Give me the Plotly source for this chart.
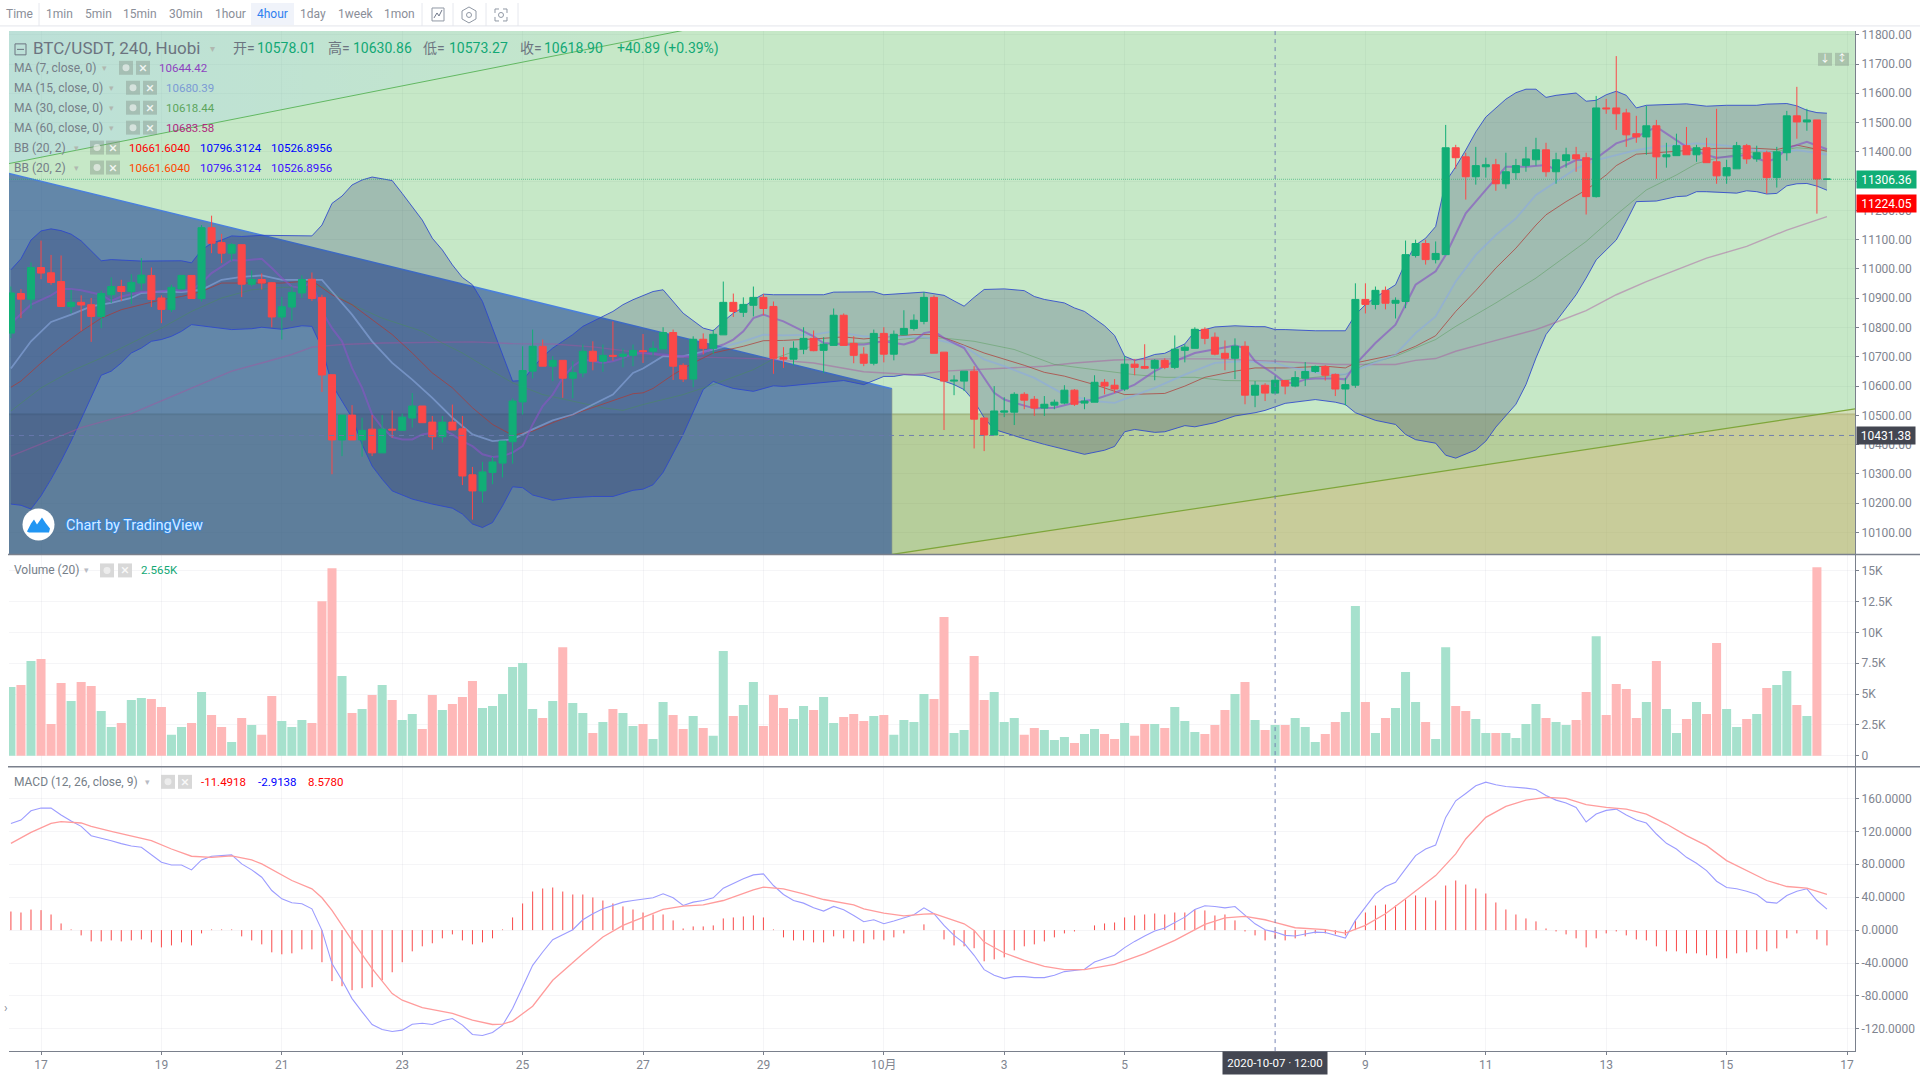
import pandas as pd
import plotly.graph_objects as go

# candles, 4h bars from 2020-09-16 12:00
opens = [10781,10916,10897,11005,10987,10957,10872,10886,10878,10838,
    10912,10940,10923,10952,10978,10901,10862,10932,10978,10899,
    11141,11090,11054,11083,10948,10964,10953,10836,10870,10918,
    10965,10903,10639,10416,10501,10416,10453,10372,10453,10449,
    10491,10532,10477,10427,10477,10454,10297,10242,10305,10337,
    10410,10546,10651,10736,10668,10688,10627,10645,10719,10685,
    10705,10702,10705,10721,10719,10727,10783,10671,10624,10760,
    10729,10775,10886,10852,10876,10903,10872,10698,10692,10726,
    10763,10722,10739,10842,10746,10709,10678,10780,10709,10775,
    10797,10821,10903,10716,10617,10617,10651,10491,10433,10511,
    10511,10572,10555,10525,10535,10542,10586,10542,10545,10613,
    10603,10590,10675,10667,10661,10688,10664,10722,10729,10794,
    10767,10712,10695,10736,10569,10603,10576,10619,10600,10627,
    10650,10667,10640,10590,10603,10896,10879,10927,10883,10889,
    11046,11087,11032,11049,11414,11383,11315,11349,11356,11291,
    11329,11353,11373,11407,11332,11370,11390,11380,11247,11550,
    11550,11533,11462,11451,11489,11383,11387,11421,11390,11414,
    11366,11318,11342,11421,11376,11397,11312,11397,11523,11502,
    11509,11306]
highs = [10940,10931,11022,11097,11048,11046,10929,10910,10901,10926,
    10971,10963,10982,11037,11005,10910,10946,10978,10978,11150,
    11182,11120,11088,11083,10995,10985,10955,10905,10940,10978,
    10988,10912,10639,10501,10535,10492,10501,10501,10517,10506,
    10576,10532,10498,10498,10537,10498,10324,10341,10358,10412,
    10558,10736,10793,10759,10702,10688,10685,10742,10753,10742,
    10821,10728,10742,10778,10753,10801,10793,10678,10770,10780,
    10793,10957,10916,10903,10940,10914,10889,10733,10753,10801,
    10790,10767,10865,10848,10770,10733,10793,10801,10790,10859,
    10845,10921,10910,10716,10637,10651,10668,10491,10600,10562,
    10579,10579,10566,10566,10554,10603,10590,10562,10637,10624,
    10624,10702,10692,10743,10692,10695,10773,10743,10801,10801,
    10783,10756,10763,10753,10617,10610,10634,10619,10651,10682,
    10670,10671,10643,10628,10951,10951,10940,10940,10903,11097,
    11100,11100,11094,11492,11424,11397,11417,11380,11376,11397,
    11376,11417,11448,11431,11397,11414,11417,11397,11591,11581,
    11727,11547,11523,11557,11509,11431,11462,11485,11424,11448,
    11547,11373,11434,11427,11421,11404,11417,11540,11622,11547,
    11509,11307]
lows = [10764,10832,10864,10965,10946,10872,10849,10789,10751,10798,
    10884,10891,10880,10929,10870,10815,10853,10932,10899,10889,
    11054,11020,11028,10904,10940,10930,10801,10759,10823,10901,
    10891,10580,10299,10361,10416,10359,10361,10372,10424,10449,
    10458,10475,10383,10407,10450,10262,10144,10202,10265,10288,
    10335,10503,10626,10668,10617,10560,10558,10630,10654,10649,
    10687,10664,10668,10679,10705,10727,10621,10614,10596,10708,
    10710,10775,10836,10836,10838,10842,10642,10662,10671,10709,
    10719,10645,10739,10739,10678,10668,10671,10681,10688,10775,
    10790,10811,10712,10450,10569,10583,10387,10378,10433,10494,
    10467,10521,10498,10498,10521,10538,10532,10521,10545,10572,
    10576,10583,10637,10658,10620,10658,10658,10681,10729,10743,
    10705,10654,10624,10538,10528,10549,10576,10572,10596,10600,
    10645,10619,10566,10534,10594,10848,10862,10862,10831,10866,
    11039,11015,11019,11049,11342,11237,11288,11312,11267,11274,
    11305,11332,11353,11315,11291,11346,11332,11186,11244,11530,
    11475,11417,11431,11390,11308,11346,11387,11390,11366,11363,
    11291,11291,11342,11359,11366,11257,11278,11370,11445,11472,
    11189,11305]
closes = [10918,10897,11005,10986,10954,10872,10886,10877,10838,10916,
    10940,10923,10954,10979,10896,10862,10937,10978,10899,11141,
    11088,11054,11083,10948,10964,10952,10836,10871,10920,10964,
    10899,10638,10416,10501,10416,10449,10372,10453,10450,10494,
    10532,10475,10427,10477,10450,10293,10242,10307,10341,10412,
    10549,10653,10736,10668,10688,10627,10646,10719,10685,10705,
    10702,10709,10722,10718,10729,10783,10668,10624,10760,10729,
    10777,10886,10855,10879,10903,10865,10695,10692,10729,10763,
    10721,10743,10842,10739,10705,10678,10780,10709,10777,10797,
    10825,10903,10712,10617,10620,10651,10487,10433,10515,10515,
    10572,10552,10525,10538,10545,10586,10538,10549,10613,10600,
    10590,10675,10664,10661,10688,10664,10726,10733,10794,10763,
    10709,10695,10736,10569,10603,10576,10620,10600,10629,10650,
    10667,10637,10590,10605,10896,10879,10927,10883,10893,11049,
    11087,11032,11053,11414,11380,11315,11353,11356,11291,11332,
    11353,11376,11407,11332,11373,11390,11376,11247,11550,11547,
    11530,11458,11451,11489,11383,11390,11421,11390,11414,11363,
    11318,11346,11421,11376,11397,11312,11400,11523,11502,11509,
    11307,11307]

volumes = [5.57,5.74,7.67,7.84,2.58,5.90,4.44,5.98,5.65,3.63,
    2.34,2.67,4.52,4.68,4.60,3.96,1.70,2.34,2.67,5.17,
    3.31,2.34,1.13,3.07,2.50,1.70,4.85,2.83,2.34,2.91,
    2.67,12.52,15.19,6.46,3.47,3.80,4.93,5.74,4.52,2.91,
    3.39,2.18,4.93,3.72,4.20,4.77,6.06,3.88,4.04,5.01,
    7.19,7.51,3.80,3.07,4.44,8.80,4.28,3.47,1.86,2.75,
    3.80,3.47,2.42,2.58,1.37,4.36,3.31,2.18,3.23,2.26,
    1.62,8.48,3.23,4.12,5.98,2.42,4.93,3.88,2.99,4.04,
    3.72,4.77,2.67,3.15,3.39,2.83,3.23,3.31,1.70,2.91,
    2.75,5.01,4.60,11.23,1.86,2.10,8.08,4.52,5.17,2.75,
    3.07,1.70,2.26,2.10,1.29,1.53,1.05,1.78,2.18,1.78,
    1.37,2.67,1.62,2.58,2.58,2.26,3.96,2.83,1.94,1.78,
    2.50,3.72,5.01,5.98,2.91,2.10,2.50,2.50,3.07,2.34,
    1.13,1.78,2.75,3.55,12.12,4.36,1.86,3.07,3.88,6.79,
    4.36,2.75,1.37,8.80,4.04,3.63,2.99,1.86,1.86,1.86,
    1.45,2.58,4.20,3.07,2.75,2.50,2.91,5.17,9.69,3.31,
    5.82,5.41,3.07,4.36,7.67,3.80,1.86,2.99,4.36,3.39,
    9.13,3.80,2.34,2.99,3.39,5.49,5.74,6.87,4.12,3.23,
    15.27,0]

macd_line = [129.7,133.8,145.1,148.3,148.3,139.9,132.6,126.1,114.8,112,
    108.7,105.1,102.3,100.7,91.4,82.5,79.2,79.2,73.2,85.3,
    89.8,90.2,91.4,80.5,73.2,64.3,48.1,38,33.2,32,
    25.9,-0.3,-40.7,-60.9,-83.2,-99.3,-114.7,-120.7,-123.2,-121.5,
    -114.3,-113.1,-114.7,-110.2,-107.4,-115.5,-126.8,-128,-124.4,-115.5,
    -95.3,-69,-42.8,-26.6,-11.7,-5.6,0.5,12.6,19.9,25.9,
    30,34,36,38,39.3,44.1,39.3,30,34,36,
    39.3,51,57,62.3,67.1,68.3,54.2,43.3,36,32.8,
    27.1,23.1,28.8,24.7,17.8,10.2,12.6,7.7,11,14.6,
    18.6,27.1,19.9,5.7,-6.4,-15.7,-30.6,-48,-54.9,-58.9,
    -56.5,-56.5,-57.7,-57.7,-54.9,-50.4,-48.8,-47.6,-38.7,-34.7,
    -30.6,-21.3,-13.7,-7.2,-1.1,2.5,9,15.8,25.1,29.6,
    28.7,27.1,28.7,17.8,7.7,0.5,-2.4,-6.4,-7.2,-4.8,
    -2.4,-2.8,-6.4,-9.6,11.8,27.9,44.1,53,58.2,74.4,
    90.6,98.6,103.5,137,157.2,166.1,175.4,179.8,176.6,174.6,
    173.8,172.6,171,163.7,158,154.4,149.1,131.4,141,145.5,
    147.1,139.9,133.8,130.1,116.8,105.5,98.6,88.5,81.3,72.4,
    59.4,51.8,50.2,47.3,43.3,34,32.8,42.1,47.3,50.2,
    36,25.5]

macd_hist = [22.6,21.4,25,24.3,19,8.1,0.8,-6.4,-13.7,-13.7,
    -12.5,-13.7,-12.5,-11.3,-14.9,-21,-18.6,-14.9,-18.6,-4,
    0.8,0.8,0.8,-7.6,-12.5,-17.3,-27,-29.4,-28.2,-23.4,
    -23.4,-39,-62,-68.2,-73,-70.6,-69.4,-61,-51.2,-39,
    -25.8,-19.7,-16,-10,-5.2,-12.5,-17.3,-14.9,-10,0.8,
    15.4,32.4,46.9,50.6,51.8,46.9,43.3,43.3,39.7,36,
    32.4,28.8,25.1,21.4,19,19,11.8,2,4.5,4.5,
    5.7,14.2,15.4,16.6,17.8,15.4,0.8,-8.8,-12.5,-12.5,
    -14.9,-14.9,-7.6,-10,-13.7,-16,-11.3,-12.5,-8.8,-4,
    0,7,0,-11.3,-18.6,-19.7,-22,-37.9,-35.5,-33.1,
    -24.6,-19.7,-17.3,-13.7,-8.8,-4,-1.6,0,5.7,8.1,
    9.3,15.4,17.8,19,20.2,19,21.4,21.4,25.1,23.9,
    17.8,19,11.8,-1.6,-6.4,-12.5,-10,-12.5,-10,-7.6,
    -4,-4,-5.2,-6.4,11.8,21.4,29.9,31.1,29.9,37.2,
    42.1,39.7,36,54.2,60.3,55.4,50.6,44.5,33.6,25.1,
    19,14.2,10.6,2,-1.6,-5.2,-10,-21,-10,-4,
    -1.6,-6.4,-11.3,-12.5,-19.7,-25.8,-25.8,-28.2,-28.2,-30.6,
    -34.3,-34.3,-28.2,-27,-23.4,-25.8,-22.2,-10,-4,0,
    -11.3,-18.6]

# signal line, read at the bars where it bends
signal_idx = [0,2,4,5,7,8,10,12,14,16,18,20,22,24,25,28,30,31,32,34,36,38,39,41,44,46,48,49,50,52,54,57,59,61,63,65,67,69,71,74,75,77,79,81,84,85,87,89,91,92,95,96,97,99,101,103,105,107,110,113,116,119,121,123,125,128,131,133,135,137,139,142,144,145,147,149,151,153,155,157,159,161,163,165,167,169,171,173,175,177,179,181]
signal_val = [105.5,118.8,129.7,131.8,130.2,126.1,120,114,108.7,98.6,89.8,88.5,90.2,85.3,80.5,60.3,50.2,39.3,23.9,-12.5,-46.8,-77.1,-85.2,-94.1,-101.3,-109.4,-114.7,-114.3,-110.6,-92.5,-61,-28.6,-8.4,5.7,15.8,25.1,29.2,30.8,36,48.9,52.2,50.2,44.1,37.2,30.8,25.9,20.7,17.4,19.4,19.9,7.7,-0.3,-14.5,-27.8,-36.7,-44,-48,-48,-41.5,-28.6,-12.5,7,15,16.6,12.6,2.9,0.5,-3.6,5.7,19.9,38,66.3,92.6,110.8,137,150.4,158,161.3,160,152.4,149.1,147.1,141,128.9,114.8,102.7,84.5,72.4,60.3,53,51,43.3]

bb_upper_idx = [0,1,2,3,4,5,6,7,8,9,10,11,13,17,18,19,20,21,22,23,25,30,31,32,33,34,35,36,37,38,39,40,41,42,43,44,45,46,47,48,49,50,51,52,53,54,55,56,57,58,59,60,61,62,63,64,65,66,67,69,70,71,72,73,74,75,76,81,82,86,87,91,93,94,95,96,97,99,101,102,103,105,106,107,108,109,110,111,112,113,114,115,116,117,118,119,120,122,124,125,126,127,130,133,134,135,136,137,138,139,140,141,142,143,144,145,146,147,148,149,150,151,152,153,154,155,156,157,158,159,160,161,162,163,167,169,171,174,175,177,178,179,180,181]
bb_upper = [10997,11035,11099,11130,11137,11131,11119,11096,11062,11028,11032,11030,11027,11028,11021,11065,11088,11099,11113,11111,11115,11113,11150,11224,11249,11287,11304,11314,11309,11302,11258,11213,11167,11105,11065,11014,10971,10946,10889,10798,10708,10617,10619,10662,10700,10730,10753,10776,10804,10821,10838,10855,10878,10895,10909,10923,10929,10887,10849,10798,10789,10821,10849,10869,10895,10914,10912,10912,10921,10922,10912,10921,10910,10891,10873,10903,10930,10932,10926,10906,10896,10884,10867,10855,10832,10806,10773,10702,10688,10696,10708,10712,10728,10744,10787,10793,10802,10806,10803,10803,10793,10793,10789,10789,10844,10878,10903,10926,10946,11023,11082,11105,11145,11298,11349,11406,11468,11519,11548,11580,11602,11614,11614,11586,11593,11598,11601,11573,11576,11595,11607,11593,11550,11559,11564,11556,11559,11559,11563,11565,11557,11542,11534,11532]

bb_lower_idx = [0,1,2,3,4,5,6,7,8,9,10,11,12,13,14,15,16,17,18,20,22,24,25,27,28,29,30,31,32,33,34,35,36,37,38,40,42,44,45,46,47,48,49,50,51,52,54,56,58,60,61,62,63,64,65,67,69,70,71,72,74,76,77,83,85,86,87,88,89,91,92,93,94,95,96,97,98,99,101,103,105,107,109,110,111,112,114,115,117,118,120,122,124,125,126,127,130,132,133,134,136,138,139,140,142,143,144,146,147,148,150,151,152,153,154,155,156,157,158,159,160,161,162,164,166,167,168,169,172,173,174,175,176,177,178,179,180,181]
bb_lower = [10197,10193,10180,10225,10282,10344,10412,10486,10560,10637,10651,10679,10713,10730,10753,10759,10770,10787,10810,10801,10793,10796,10801,10794,10801,10806,10804,10730,10605,10549,10492,10401,10327,10282,10242,10214,10197,10183,10163,10129,10117,10134,10191,10256,10253,10228,10210,10219,10223,10223,10233,10244,10248,10263,10305,10435,10588,10616,10603,10592,10582,10601,10599,10619,10605,10619,10633,10633,10639,10637,10628,10617,10605,10588,10549,10492,10452,10441,10420,10401,10384,10367,10381,10394,10444,10452,10442,10444,10465,10461,10475,10498,10509,10517,10529,10541,10554,10545,10537,10509,10483,10469,10435,10417,10405,10364,10354,10382,10412,10460,10538,10605,10696,10776,10821,10867,10912,10969,11031,11065,11099,11162,11230,11232,11247,11249,11264,11264,11259,11267,11264,11256,11258,11284,11291,11292,11283,11269]

bb_mid_idx = [0,1,3,5,7,9,11,13,15,17,19,21,23,27,30,32,34,36,38,40,42,44,46,48,50,52,54,57,60,62,63,64,66,68,70,73,75,77,80,83,85,87,90,92,94,97,101,103,105,108,111,115,117,119,122,124,126,127,131,133,134,136,138,140,142,144,146,148,150,152,153,155,157,159,160,162,164,167,170,174,176,178,181]
bb_mid = [10596,10617,10679,10736,10787,10832,10861,10878,10895,10906,10923,10952,10952,10952,10960,10912,10878,10827,10776,10713,10645,10594,10526,10469,10432,10446,10475,10515,10549,10574,10577,10592,10639,10679,10713,10736,10755,10756,10761,10768,10761,10768,10776,10776,10753,10713,10671,10647,10634,10605,10571,10575,10600,10630,10651,10662,10662,10662,10668,10662,10679,10694,10708,10736,10772,10855,10926,11003,11071,11150,11185,11230,11270,11321,11353,11392,11397,11406,11412,11412,11408,11423,11402]

ma7_idx = [0,2,4,5,6,7,9,10,11,13,15,16,17,18,19,20,21,22,23,25,26,27,28,29,30,31,32,33,34,35,36,37,38,39,40,41,42,43,44,45,46,47,48,49,50,51,52,53,54,55,56,57,58,59,60,61,62,63,65,67,68,69,70,71,72,73,74,75,76,77,78,79,80,81,83,85,87,89,90,91,92,93,95,96,97,98,99,100,102,104,106,108,110,112,114,116,118,120,122,123,124,126,127,128,129,130,132,133,134,136,138,140,142,143,145,147,149,151,153,154,156,157,158,160,162,164,165,167,169,170,173,175,176,177,179,181]
ma7 = [10815,10878,10910,10932,10932,10927,10912,10891,10906,10921,10923,10929,10926,10929,10952,10986,11008,11031,11028,11035,11003,10969,10940,10935,10957,10855,10798,10753,10662,10594,10503,10458,10426,10418,10418,10435,10441,10452,10435,10412,10395,10367,10358,10361,10373,10395,10469,10532,10571,10628,10668,10691,10685,10679,10685,10696,10710,10713,10708,10702,10702,10713,10730,10742,10759,10787,10832,10844,10832,10821,10804,10787,10770,10747,10742,10742,10753,10742,10753,10781,10787,10764,10730,10679,10628,10577,10554,10543,10524,10526,10543,10554,10577,10605,10651,10685,10713,10725,10739,10730,10685,10639,10611,10611,10623,10626,10626,10623,10674,10747,10810,10946,10992,11048,11190,11270,11349,11349,11355,11338,11372,11372,11378,11429,11451,11485,11463,11417,11389,11380,11389,11366,11378,11412,11434,11409]

ma15_idx = [0,2,4,6,8,10,12,13,15,17,19,21,23,25,27,29,31,32,34,36,38,40,42,44,46,48,50,52,54,56,58,60,62,63,65,67,70,73,75,77,80,82,85,88,91,93,95,97,99,102,105,108,110,114,117,120,123,126,127,131,133,135,138,140,142,144,146,148,150,152,154,156,158,160,162,164,168,171,173,176,178,181]
ma15 = [10660,10753,10819,10844,10872,10884,10901,10918,10923,10921,10929,10963,10973,10978,10963,10963,10963,10923,10844,10753,10679,10622,10560,10492,10435,10412,10418,10452,10483,10503,10537,10571,10645,10660,10702,10702,10725,10753,10776,10773,10776,10787,10770,10770,10767,10753,10736,10691,10668,10628,10571,10549,10543,10594,10639,10679,10685,10679,10668,10640,10640,10668,10708,10781,10838,10957,11048,11116,11173,11253,11298,11343,11372,11389,11406,11417,11429,11421,11412,11395,11406,11391]

ma30_idx = [0,3,6,9,12,15,18,21,24,27,31,34,37,41,43,45,48,50,53,56,59,61,63,67,70,74,76,79,82,85,90,93,96,100,104,108,112,115,118,121,124,126,133,135,138,142,144,148,152,157,160,163,166,168,170,173,176,178,181]
ma30 = [10515,10594,10651,10696,10747,10798,10855,10901,10929,10937,10940,10878,10832,10787,10747,10713,10651,10611,10571,10549,10526,10517,10537,10571,10605,10656,10693,10730,10747,10747,10764,10764,10753,10725,10674,10656,10639,10630,10630,10619,10617,10617,10640,10674,10702,10759,10804,10884,10969,11094,11185,11270,11321,11360,11378,11398,11402,11414,11406]

ma60_idx = [0,4,7,12,15,18,22,25,28,30,33,37,43,46,50,54,58,62,63,66,70,75,80,85,90,93,98,103,106,110,115,120,126,127,132,138,140,142,144,147,150,152,154,157,160,163,166,169,173,177,181]
ma60 = [10361,10418,10458,10506,10549,10594,10651,10679,10708,10733,10742,10747,10751,10751,10745,10744,10734,10719,10713,10698,10698,10693,10679,10649,10639,10651,10660,10668,10679,10689,10693,10693,10685,10683,10674,10674,10688,10694,10719,10747,10774,10793,10818,10858,10912,10957,10997,11037,11077,11133,11179]

# drawing tool polygons, in chart coordinates
bg_dates = ['2020-09-16 11:00', '2020-10-17 04:00', '2020-10-17 04:00', '2020-09-16 11:00']
bg_prices = [11816, 11816, 10020, 10020]
band_prices = [10505, 10505, 10020, 10020]
wedge_dates = ['2020-09-16 11:14', '2020-09-27 16:45', '2020-09-16 11:14']
wedge_prices = [11360, 11816, 11816]
blue_dates = ['2020-09-16 11:14', '2020-10-01 03:15', '2020-10-01 03:15', '2020-09-16 11:14']
blue_prices = [11326, 10591, 10020, 10020]
olive_dates = ['2020-10-01 03:15', '2020-10-17 03:11', '2020-10-17 03:11']
olive_prices = [10025, 10522, 10025]

day_ticks = ['2020-09-17', '2020-09-19', '2020-09-21', '2020-09-23', '2020-09-25', '2020-09-27', '2020-09-29',
             '2020-10-01', '2020-10-03', '2020-10-05', '2020-10-09', '2020-10-11', '2020-10-13', '2020-10-15', '2020-10-17']
day_labels = ['17', '19', '21', '23', '25', '27', '29', '10月', '3', '5', '9', '11', '13', '15', '17']
price_ticks = [10100 + 100 * i for i in range(18)]
vol_ticks = [0, 2.5, 5, 7.5, 10, 12.5, 15]
vol_labels = ['0', '2.5K', '5K', '7.5K', '10K', '12.5K', '15K']
macd_ticks = [160, 120, 80, 40, 0, -40, -80, -120]
macd_labels = ['160.0000', '120.0000', '80.0000', '40.0000', '0.0000', '-40.0000', '-80.0000', '-120.0000']
periods = ['Time', '1min', '5min', '15min', '30min', '1hour', '4hour', '1day', '1week', '1mon']

FONT = "Roboto, 'Noto Sans CJK SC', sans-serif"
GREY = '#7F8590'
UP = '#11AE76'
DOWN = '#FB4848'
FOUR_H = 4 * 3600 * 1000


def px(x):
    return x / 1920


def py(y):
    return 1 - y / 1080


dates = pd.date_range('2020-09-16 12:00', periods=len(opens), freq='4h')
vol_colors = ['#A6E1CD' if c >= o else '#FEB8B8' for o, c in zip(opens, closes)]


def knots(idx):
    return [dates[i] for i in idx]


fig = go.Figure()


def poly(xs, ys, fill):
    fig.add_trace(go.Scatter(x=xs, y=ys, mode='lines', fill='toself', fillcolor=fill,
                             line=dict(color='rgba(0,0,0,0)', width=0), hoverinfo='skip', showlegend=False))


def edge(xs, ys, color, width):
    fig.add_trace(go.Scatter(x=xs, y=ys, mode='lines', line=dict(color=color, width=width),
                             hoverinfo='skip', showlegend=False))


poly(bg_dates, bg_prices, 'rgba(78,184,80,0.32)')
poly(bg_dates, band_prices, 'rgba(127,114,0,0.22)')
edge(bg_dates[:2], band_prices[:2], 'rgba(100,105,40,0.3)', 1.5)
fig.add_trace(go.Scatter(x=wedge_dates, y=wedge_prices, mode='lines', fill='toself',
                         line=dict(color='rgba(0,0,0,0)', width=0), hoverinfo='skip', showlegend=False,
                         fillgradient=dict(type='horizontal',
                                           colorscale=[[0, 'rgba(165,205,255,0.3)'], [1, 'rgba(165,205,255,0.04)']])))
edge(wedge_dates[:2], wedge_prices[:2], '#62B862', 1)
poly(blue_dates, blue_prices, 'rgba(52,88,155,0.68)')
edge(blue_dates[:2], blue_prices[:2], '#4A80DC', 1.5)
edge(blue_dates[1:3], blue_prices[1:3], 'rgba(140,150,140,0.6)', 1)
poly(olive_dates, olive_prices, 'rgba(255,200,150,0.25)')
edge(olive_dates[:2], olive_prices[:2], '#7EA63A', 1.2)

# bollinger band fill, closed through the lower edge reversed
band_x = knots(bb_upper_idx) + knots(bb_lower_idx)[::-1]
band_y = bb_upper + bb_lower[::-1]
poly(band_x, band_y, 'rgba(20,25,95,0.21)')

for idx, vals, color, width in [
    (bb_upper_idx, bb_upper, 'rgba(45,70,205,0.85)', 1),
    (bb_lower_idx, bb_lower, 'rgba(45,70,205,0.85)', 1),
    (ma60_idx, ma60, 'rgba(170,80,160,0.45)', 1.4),
    (ma30_idx, ma30, 'rgba(70,150,70,0.4)', 1),
    (bb_mid_idx, bb_mid, 'rgba(175,55,50,0.7)', 1),
    (ma15_idx, ma15, 'rgba(140,170,225,0.6)', 1.8),
    (ma7_idx, ma7, 'rgba(135,85,195,0.65)', 2),
]:
    edge(knots(idx), vals, color, width)

# on an overlaid axis so the bodies stay on top of the scatter fills
fig.add_trace(go.Candlestick(x=dates, open=opens, high=highs, low=lows, close=closes, yaxis='y4',
                             increasing=dict(line=dict(color=UP, width=1), fillcolor=UP),
                             decreasing=dict(line=dict(color=DOWN, width=1), fillcolor=DOWN),
                             hoverinfo='skip', showlegend=False))

fig.add_trace(go.Bar(x=dates, y=volumes, yaxis='y2', width=FOUR_H * 0.9, marker=dict(color=vol_colors, line=dict(width=0)),
                     hoverinfo='skip', showlegend=False))

# histogram as separate stems, bars this thin get widened to 2px
stem_x, stem_y = [], []
for d, v in zip(dates, macd_hist):
    stem_x += [d, d, None]
    stem_y += [0, v, None]
fig.add_trace(go.Scatter(x=stem_x, y=stem_y, yaxis='y3', mode='lines', line=dict(color='#F94A4A', width=1),
                         hoverinfo='skip', showlegend=False))
fig.add_trace(go.Scatter(x=dates, y=macd_line, yaxis='y3', mode='lines', line=dict(color='#9C9CFF', width=1.1),
                         hoverinfo='skip', showlegend=False))
fig.add_trace(go.Scatter(x=knots(signal_idx), y=signal_val, yaxis='y3', mode='lines', line=dict(color='#FF9C9C', width=1.3),
                         hoverinfo='skip', showlegend=False))

annotations = []
shapes = []


def text(x, y, s, color=GREY, size=11, anchor='left'):
    annotations.append(dict(x=px(x), y=py(y), xref='paper', yref='paper', text=s, showarrow=False,
                            xanchor=anchor, yanchor='middle', font=dict(family=FONT, size=size, color=color)))


def rect(x0, y0, x1, y1, fill, line=None, layer='above'):
    shapes.append(dict(type='rect', xref='paper', yref='paper', x0=px(x0), x1=px(x1), y0=py(y0), y1=py(y1),
                       fillcolor=fill, line=dict(width=1 if line else 0, color=line or fill), layer=layer))


def hline(x0, x1, y, color, width=1):
    shapes.append(dict(type='line', xref='paper', yref='paper', x0=px(x0), x1=px(x1), y0=py(y), y1=py(y),
                       line=dict(color=color, width=width)))


def vline(x, y0, y1, color, width=1):
    shapes.append(dict(type='line', xref='paper', yref='paper', x0=px(x), x1=px(x), y0=py(y0), y1=py(y1),
                       line=dict(color=color, width=width)))


def path(points, fill=None, line=None, width=1):
    d = 'M' + ' L'.join(f'{px(a):.5f},{py(b):.5f}' for a, b in points)
    shapes.append(dict(type='path', xref='paper', yref='paper', path=d + (' Z' if fill else ''),
                       fillcolor=fill or 'rgba(0,0,0,0)', line=dict(color=line or fill, width=width if line else 0)))


def circle(cx, cy, r, fill=None, line=None):
    shapes.append(dict(type='circle', xref='paper', yref='paper', x0=px(cx - r), x1=px(cx + r),
                       y0=py(cy + r), y1=py(cy - r), fillcolor=fill or 'rgba(0,0,0,0)',
                       line=dict(color=line or fill, width=1 if line else 0)))


def buttons(x1, x2, y, color):
    # the settings and close boxes beside each study title
    rect(x1, y - 7, x1 + 14, y + 7, color)
    circle(x1 + 7, y, 3.5, 'rgba(255,255,255,0.55)')
    rect(x2, y - 7, x2 + 14, y + 7, color)
    text(x2 + 7, y, '×', 'rgba(255,255,255,0.85)', 15, 'center')


# toolbar
for label, x in zip(periods, [19, 59, 98, 140, 186, 230, 272, 313, 355, 399]):
    active = label == '4hour'
    if active:
        rect(251, 0, 294, 22, '#F0F3FA')
    text(x, 11, label, '#2F7FF0' if active else '#8A8E98', 12, 'center')
for x in [39, 422, 453, 486, 518]:
    vline(x, 0, 23, '#E6E8EE')
hline(0, 1920, 23, '#E3E5EB')
rect(432, 5, 444, 18, 'rgba(0,0,0,0)', '#9098A4')
path([(434, 15), (437, 10), (439, 13), (442, 7)], line='#70788A')
path([(469, 4), (476, 8), (476, 16), (469, 20), (462, 16), (462, 8), (469, 4)], line='#9098A4')
circle(469, 12, 2.5, line='#9098A4')
for cx, cy, dx, dy in [(495, 6, 1, 1), (507, 6, -1, 1), (495, 18, 1, -1), (507, 18, -1, -1)]:
    path([(cx + 4 * dx, cy), (cx, cy), (cx, cy + 4 * dy)], line='#9098A4')
circle(501, 12, 2.5, line='#9098A4')

# main pane header
rect(15, 41, 26, 52, 'rgba(0,0,0,0)', '#6C7480')
hline(17, 24, 46.5, '#6C7480')
text(31, 45.5, 'BTC/USDT, 240, Huobi', '#6C7480', 17)
text(208, 45.5, '▾', '#B0B8B0', 10)
for x, s in [(231, '开='), (326, '高='), (421, '低='), (518, '收=')]:
    text(x, 45.5, s, '#6C7480', 14)
for x, s in [(255, '10578.01'), (351, '10630.86'), (447, '10573.27'), (542, '10618.90'), (615, '+40.89 (+0.39%)')]:
    text(x, 45.5, s, '#12A875', 14)

buttons_color = 'rgba(130,145,135,0.42)'
for y, s, tri, b1, b2, x, value, color in [
    (65, 'MA (7, close, 0)', 100, 119, 136, 157, '10644.42', '#8E44C0'),
    (85, 'MA (15, close, 0)', 107, 126, 143, 164, '10680.39', '#7B9BD4'),
    (105, 'MA (30, close, 0)', 107, 126, 143, 164, '10618.44', '#5DA55D'),
    (125, 'MA (60, close, 0)', 107, 126, 143, 164, '10683.58', '#B0287E'),
]:
    text(12, y, s, '#757E88', 12)
    text(tri, y, '▾', '#B0B8B0', 9)
    buttons(b1, b2, y, buttons_color)
    text(x, y, value, color, 11.5)
for y, c1, c2 in [(145, '#FF0000', '#0000FF'), (165, '#FF4500', '#3A10FF')]:
    text(12, y, 'BB (20, 2)', '#757E88', 12)
    text(72, y, '▾', '#B0B8B0', 9)
    buttons(90, 106, y, buttons_color)
    text(127, y, '10661.6040', c1, 11.5)
    text(198, y, '10796.3124', c2, 11.5)
    text(269, y, '10526.8956', c2, 11.5)

# scale buttons, top right of the main pane
rect(1818, 50, 1832, 63, buttons_color)
rect(1835, 50, 1849, 63, buttons_color)
text(1825, 56, '↓', 'white', 10, 'center')
text(1842, 56, '↕', 'white', 10, 'center')

# watermark
circle(38.5, 523, 16, 'white')
path([(27, 530), (31, 522), (34, 518), (37, 523), (42, 516), (46, 522), (50, 527), (49, 531), (29, 531)], fill='#2196F3')
annotations.append(dict(x=px(64), y=py(524), xref='paper', yref='paper', text='Chart by TradingView', showarrow=False,
                        xanchor='left', yanchor='middle',
                        font=dict(family=FONT, size=14.5, color='#D5EBFF',
                                  shadow='1px 0 1px #2F86E8, -1px 0 1px #2F86E8, 0 1px 1px #2F86E8, 0 -1px 1px #2F86E8')))

# volume and macd titles
text(12, 569, 'Volume (20)', '#757E88', 12)
text(82, 569, '▾', '#B8BBC4', 9)
buttons(100, 118, 569, '#D8D8D8')
text(139, 569, '2.565K', '#12A875', 11.5)
text(12, 781, 'MACD (12, 26, close, 9)', '#757E88', 12)
text(143, 781, '▾', '#B8BBC4', 9)
buttons(161, 178, 781, '#D8D8D8')
text(199, 781, '-11.4918', '#FF0000', 11.5)
text(256, 781, '-2.9138', '#0000FF', 11.5)
text(306, 781, '8.5780', '#FF0000', 11.5)
text(2, 1008, '›', '#8A8E98', 12)

# pane borders
hline(8, 1920, 553, '#7A808C', 1.5)
hline(8, 1920, 766, '#7A808C', 1.5)

# crosshair and price lines
shapes.append(dict(type='line', xref='x', yref='paper', x0='2020-10-07 12:00', x1='2020-10-07 12:00', y0=py(1051), y1=py(28),
                   line=dict(color='rgba(105,120,175,0.9)', width=1, dash='4px,4px')))
shapes.append(dict(type='line', xref='paper', yref='y', x0=px(9), x1=px(1855), y0=10431.38, y1=10431.38,
                   line=dict(color='rgba(105,120,175,0.9)', width=1, dash='5px,5px')))
shapes.append(dict(type='line', xref='paper', yref='y', x0=px(9), x1=px(1855), y0=11306.36, y1=11306.36,
                   line=dict(color='rgba(40,170,110,0.6)', width=1, dash='1px,1px')))

# value tags on the right scale
for price, s, bg, w in [(11306.36, '11306.36', '#11AE76', 57), (11224.05, '11224.05', '#FF0000', 57), (10431.38, '10431.38', '#434651', 56)]:
    annotations.append(dict(x=px(1856), y=price, xref='paper', yref='y', text=s, showarrow=False, xanchor='left',
                            yanchor='middle', width=w, height=15, bgcolor=bg, borderpad=1, align='center',
                            font=dict(family=FONT, size=12, color='white')))
annotations.append(dict(x='2020-10-07 12:00', y=py(1051), xref='x', yref='paper', text='2020-10-07 · 12:00', showarrow=False,
                        xanchor='center', yanchor='top', width=102, height=20, bgcolor='#434651', borderpad=1, align='center',
                        font=dict(family=FONT, size=11.5, color='white')))

axis_line = dict(showline=True, linecolor='#7A808C', linewidth=1, ticks='outside', ticklen=3, tickcolor='#7A808C',
                 tickfont=dict(family=FONT, size=12, color=GREY), gridcolor='rgba(190,195,205,0.16)', zeroline=False, fixedrange=True)

fig.update_layout(
    width=1920, height=1080, margin=dict(l=0, r=0, t=0, b=0),
    paper_bgcolor='white', plot_bgcolor='white', showlegend=False, hovermode=False, barmode='overlay',
    boxgap=0.3, boxgroupgap=0,
    font=dict(family=FONT),
    xaxis=dict(axis_line, domain=[px(9), px(1855)], anchor='y3', type='date',
               range=['2020-09-16 11:14', '2020-10-17 03:11'], tickvals=day_ticks, ticktext=day_labels,
               rangeslider=dict(visible=False), tickangle=0),
    yaxis=dict(axis_line, domain=[py(553), py(28)], anchor='x', side='right', range=[10025, 11813],
               tickvals=price_ticks, ticktext=[f'{v}.00' for v in price_ticks]),
    yaxis4=dict(domain=[py(553), py(28)], anchor='x', overlaying='y', side='right', range=[10025, 11813],
                visible=False, fixedrange=True),
    yaxis2=dict(axis_line, domain=[py(766), py(553)], anchor='x', side='right', range=[-0.89, 16.3],
                tickvals=vol_ticks, ticktext=vol_labels),
    yaxis3=dict(axis_line, domain=[py(1051), py(766)], anchor='x', side='right', range=[-147, 198.4],
                tickvals=macd_ticks, ticktext=macd_labels),
    annotations=annotations, shapes=shapes,
)

fig.write_html('out.html', config={'displayModeBar': False},
               post_script="document.body.style.margin='0';document.documentElement.style.overflow='hidden';")
